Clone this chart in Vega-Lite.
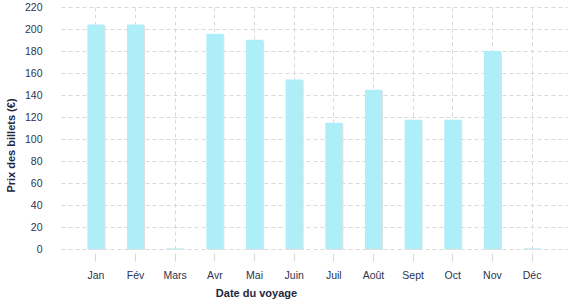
{
  "$schema": "https://vega.github.io/schema/vega-lite/v6.json",
  "width": 506,
  "height": 242,
  "autosize": {"type": "none"},
  "padding": {"left": 61, "top": 7, "right": 10, "bottom": 51},
  "background": "white",
  "data": {
    "values": [
      {"mois": "Jan", "prix": 204},
      {"mois": "Fév", "prix": 204},
      {"mois": "Mars", "prix": 0.6},
      {"mois": "Avr", "prix": 195.7},
      {"mois": "Mai", "prix": 190.3},
      {"mois": "Juin", "prix": 154},
      {"mois": "Juil", "prix": 114.8},
      {"mois": "Août", "prix": 144.8},
      {"mois": "Sept", "prix": 117.5},
      {"mois": "Oct", "prix": 117.5},
      {"mois": "Nov", "prix": 180},
      {"mois": "Déc", "prix": 0.6}
    ]
  },
  "config": {
    "view": {"stroke": null},
    "font": "Liberation Sans",
    "axis": {
      "gridColor": "#d9d9d9",
      "gridDash": [4, 3],
      "gridWidth": 1,
      "domain": false,
      "labelColor": "#2b3350",
      "labelFontSize": 10.5,
      "titleColor": "#1f2740",
      "titleFontSize": 11,
      "titleFontWeight": "bold"
    }
  },
  "encoding": {
    "x": {
      "field": "mois",
      "type": "nominal",
      "sort": null,
      "title": "Date du voyage",
      "scale": {"paddingOuter": 0.38, "paddingInner": 0},
      "axis": {
        "labelAngle": 0,
        "grid": true,
        "ticks": true,
        "tickColor": "#d9d9d9",
        "tickSize": 12,
        "tickDash": [0, 4, 8, 100],
        "labelPadding": 9,
        "titleX": 195,
        "titleY": 38,
        "titleAnchor": "middle"
      }
    },
    "y": {
      "field": "prix",
      "type": "quantitative",
      "title": "Prix des billets (€)",
      "scale": {"domain": [0, 220], "nice": false},
      "axis": {
        "values": [0, 20, 40, 60, 80, 100, 120, 140, 160, 180, 200, 220],
        "ticks": false,
        "labelPadding": 19,
        "titleX": -45,
        "titleY": 138,
        "titleAnchor": "middle"
      }
    }
  },
  "layer": [
    {
      "mark": {"type": "bar", "color": "#e0e0e0", "xOffset": 1, "yOffset": 1, "size": 17}
    },
    {
      "mark": {"type": "bar", "color": "#aeeef9", "size": 17}
    }
  ]
}
